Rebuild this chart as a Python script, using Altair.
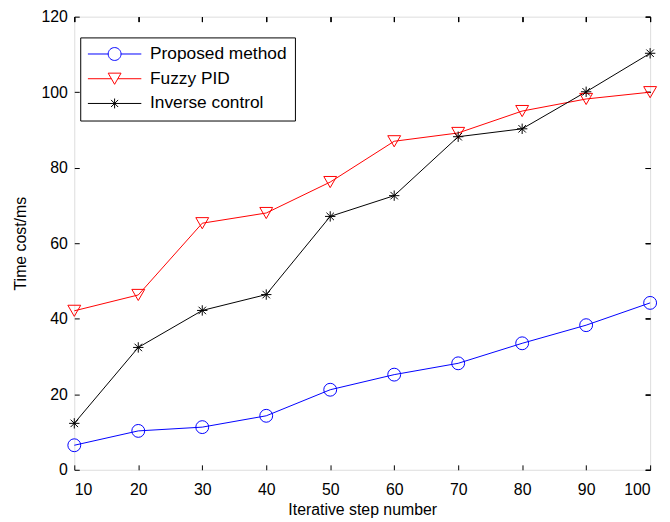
import altair as alt
import pandas as pd

# ---- data ----
steps = [10, 20, 30, 40, 50, 60, 70, 80, 90, 100]
proposed = [6.5, 10.3, 11.3, 14.3, 21.2, 25.2, 28.2, 33.5, 38.3, 44.2]
fuzzy_pid = [42.1, 46.3, 65.3, 68.0, 76.2, 87.0, 89.2, 95.0, 98.2, 100.0]
inverse = [12.3, 32.4, 42.2, 46.4, 67.1, 72.6, 88.2, 90.3, 100.1, 110.3]

series_names = ["Proposed method", "Fuzzy PID", "Inverse control"]
series_colors = ["#0000ff", "#ff0000", "#000000"]
x_ticks = [10, 20, 30, 40, 50, 60, 70, 80, 90, 100]
y_ticks = [0, 20, 40, 60, 80, 100, 120]

# marker shapes on the plot
ASTERISK = "M0,-1V1M-1,0H1M-0.72,-0.72L0.72,0.72M-0.72,0.72L0.72,-0.72"
plot_shapes = ["circle", "triangle-down", ASTERISK]
plot_sizes = [169, 169, 110]

# legend symbols: line segment plus marker (units of 5 px at symbolSize 100)
LEG_CIRCLE = ("M-5.4,0H-1.3M1.3,0H5.4"
              "M1.3,0A1.3,1.3,0,1,1,-1.3,0A1.3,1.3,0,1,1,1.3,0")
LEG_TRI = "M-5.4,0H-0.65M0.65,0H5.4M0,1.13L-1.3,-1.13L1.3,-1.13Z"
LEG_AST = ("M-5.4,0H5.4M0,-1V1M-0.72,-0.72L0.72,0.72"
           "M-0.72,0.72L0.72,-0.72")
legend_shapes = [LEG_CIRCLE, LEG_TRI, LEG_AST]

rows = []
for name, vals in zip(series_names, [proposed, fuzzy_pid, inverse]):
    for s, v in zip(steps, vals):
        rows.append({"step": s, "value": v, "series": name})
df = pd.DataFrame(rows)

FONT = "Liberation Sans"

xscale = alt.Scale(domain=[10, 100], nice=False, zero=False)
yscale = alt.Scale(domain=[0, 120], nice=False)
cscale = alt.Scale(domain=series_names, range=series_colors)

common_axis = dict(
    grid=False, domain=False, tickSize=5, offset=-5, tickColor="#000000",
    tickWidth=1, labelColor="#000000", titleColor="#000000",
    labelFont=FONT, titleFont=FONT, labelFontSize=16, titleFontSize=16,
    titleFontWeight="normal",
)

x_bottom = alt.X("step:Q", scale=xscale, axis=alt.Axis(
    orient="bottom", values=x_ticks, title="Iterative step number",
    labelPadding=12, titlePadding=4, **common_axis))
y_left = alt.Y("value:Q", scale=yscale, axis=alt.Axis(
    orient="left", values=y_ticks, title="Time cost/ms",
    labelPadding=7, titlePadding=13, **common_axis))

base = alt.Chart(df)

# invisible layer that only carries the legend (placed first so its legend wins)
legend_layer = base.mark_point(filled=False, opacity=0, strokeWidth=1).encode(
    x=alt.X("step:Q", scale=xscale, axis=None),
    y=alt.Y("value:Q", scale=yscale, axis=None),
    color=alt.Color("series:N", scale=cscale, legend=alt.Legend(
        title=None, orient="none", legendX=6, legendY=21,
        symbolSize=100, symbolStrokeWidth=1, symbolOpacity=1,
        symbolFillColor="transparent",
        symbolOffset=18, labelOffset=27, labelLimit=300,
        labelFont=FONT, labelFontSize=17.5, labelColor="#000000",
        rowPadding=6, padding=8, strokeColor="#000000", fillColor="#ffffff",
        cornerRadius=0)),
    shape=alt.Shape("series:N", scale=alt.Scale(domain=series_names,
                                                range=legend_shapes)),
)

lines = base.mark_line(strokeWidth=1, clip=False).encode(
    x=x_bottom, y=y_left,
    color=alt.Color("series:N", scale=cscale, legend=None),
    detail="series:N",
)

marker_layers = []
for name, shp, sz in zip(series_names, plot_shapes, plot_sizes):
    marker_layers.append(
        base.transform_filter(alt.datum.series == name)
        .mark_point(shape=shp, size=sz, filled=False, strokeWidth=1, opacity=1)
        .encode(
            x=alt.X("step:Q", scale=xscale, axis=alt.Axis(
                orient="top", values=x_ticks, labels=False, title=None,
                **common_axis)),
            y=alt.Y("value:Q", scale=yscale, axis=alt.Axis(
                orient="right", values=y_ticks, labels=False, title=None,
                **common_axis)),
            color=alt.Color("series:N", scale=cscale, legend=None),
        )
    )

chart = alt.layer(legend_layer, lines, *marker_layers).resolve_axis(
    x="independent", y="independent"
).properties(
    width=582, height=458,
    autosize=alt.AutoSizeParams(type="none"),
    padding={"left": 67, "top": 6, "right": 12, "bottom": 48},
).configure_view(
    stroke="#000000", strokeWidth=1.5
).configure(
    font=FONT, background="#ffffff"
)

chart.save("out.html", embed_options={"renderer": "svg", "actions": False})
